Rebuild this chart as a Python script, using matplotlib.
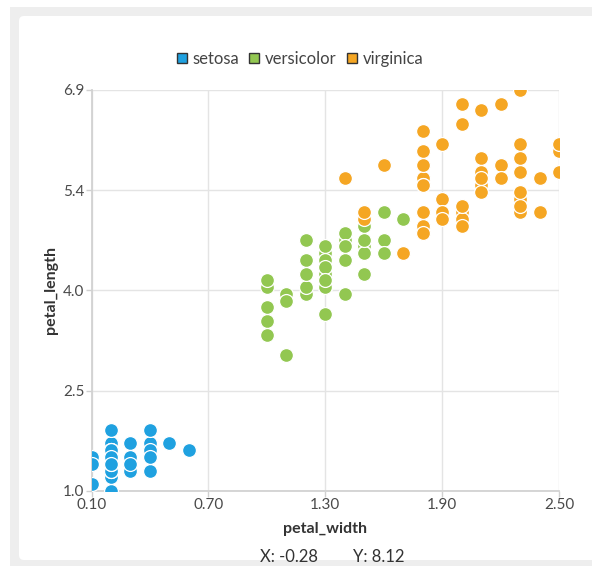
import matplotlib
matplotlib.use("Agg")
import matplotlib.pyplot as plt
from matplotlib.lines import Line2D
from matplotlib.patches import FancyBboxPatch, Rectangle
from matplotlib.transforms import IdentityTransform

plt.rcParams["font.family"] = ["Lato", "DejaVu Sans"]

# iris petal measurements
species = ["setosa", "versicolor", "virginica"]
colors = ["#1fa1e0", "#92c751", "#f5a623"]

setosa_width = [0.2, 0.2, 0.2, 0.2, 0.2, 0.4, 0.3, 0.2, 0.2, 0.1,
                0.2, 0.2, 0.1, 0.1, 0.2, 0.4, 0.4, 0.3, 0.3, 0.3,
                0.2, 0.4, 0.2, 0.5, 0.2, 0.2, 0.4, 0.2, 0.2, 0.2,
                0.2, 0.4, 0.1, 0.2, 0.2, 0.2, 0.2, 0.1, 0.2, 0.2,
                0.3, 0.3, 0.2, 0.6, 0.4, 0.3, 0.2, 0.2, 0.2, 0.2]
setosa_length = [1.4, 1.4, 1.3, 1.5, 1.4, 1.7, 1.4, 1.5, 1.4, 1.5,
                 1.5, 1.6, 1.4, 1.1, 1.2, 1.5, 1.3, 1.4, 1.7, 1.5,
                 1.7, 1.5, 1.0, 1.7, 1.9, 1.6, 1.6, 1.5, 1.4, 1.6,
                 1.6, 1.5, 1.5, 1.4, 1.5, 1.2, 1.3, 1.4, 1.3, 1.5,
                 1.3, 1.3, 1.3, 1.6, 1.9, 1.4, 1.6, 1.4, 1.5, 1.4]

versicolor_width = [1.4, 1.5, 1.5, 1.3, 1.5, 1.3, 1.6, 1.0, 1.3, 1.4,
                    1.0, 1.5, 1.0, 1.4, 1.3, 1.4, 1.5, 1.0, 1.5, 1.1,
                    1.8, 1.3, 1.5, 1.2, 1.3, 1.4, 1.4, 1.7, 1.5, 1.0,
                    1.1, 1.0, 1.2, 1.6, 1.5, 1.6, 1.5, 1.3, 1.3, 1.3,
                    1.2, 1.4, 1.2, 1.0, 1.3, 1.2, 1.3, 1.3, 1.1, 1.3]
versicolor_length = [4.7, 4.5, 4.9, 4.0, 4.6, 4.5, 4.7, 3.3, 4.6, 3.9,
                     3.5, 4.2, 4.0, 4.7, 3.6, 4.4, 4.5, 4.1, 4.5, 3.9,
                     4.8, 4.0, 4.9, 4.7, 4.3, 4.4, 4.8, 5.0, 4.5, 3.5,
                     3.8, 3.7, 3.9, 5.1, 4.5, 4.5, 4.7, 4.4, 4.1, 4.0,
                     4.4, 4.6, 4.0, 3.3, 4.2, 4.2, 4.2, 4.3, 3.0, 4.1]

virginica_width = [2.5, 1.9, 2.1, 1.8, 2.2, 2.1, 1.7, 1.8, 1.8, 2.5,
                   2.0, 1.9, 2.1, 2.0, 2.4, 2.3, 1.8, 2.2, 2.3, 1.5,
                   2.3, 2.0, 2.0, 1.8, 2.1, 1.8, 1.8, 1.8, 2.1, 1.6,
                   1.9, 2.0, 2.2, 1.5, 1.4, 2.3, 2.4, 1.8, 1.8, 2.1,
                   2.4, 2.3, 1.9, 2.3, 2.5, 2.3, 1.9, 2.0, 2.3, 1.8]
virginica_length = [6.0, 5.1, 5.9, 5.6, 5.8, 6.6, 4.5, 6.3, 5.8, 6.1,
                    5.1, 5.3, 5.5, 5.0, 5.1, 5.3, 5.5, 6.7, 6.9, 5.0,
                    5.7, 4.9, 6.7, 4.9, 5.7, 6.0, 4.8, 4.9, 5.6, 5.8,
                    6.1, 6.4, 5.6, 5.1, 5.6, 6.1, 5.6, 5.5, 4.8, 5.4,
                    5.6, 5.1, 5.1, 5.9, 5.7, 5.2, 5.0, 5.2, 5.4, 5.1]

widths = [setosa_width, versicolor_width, virginica_width]
lengths = [setosa_length, versicolor_length, virginica_length]

x_ticks = [0.10, 0.70, 1.30, 1.90, 2.50]
x_tick_labels = ["0.10", "0.70", "1.30", "1.90", "2.50"]
y_ticks = [1.0, 2.475, 3.95, 5.425, 6.9]
y_tick_labels = ["1.0", "2.5", "4.0", "5.4", "6.9"]

W, H = 592, 566
fig = plt.figure(figsize=(W / 100, H / 100), dpi=100)
fig.patch.set_facecolor("white")

# grey frame and white card behind the chart
fig.patches.append(Rectangle((10, 0), W - 10, H - 7, transform=IdentityTransform(),
                             facecolor="#eeeeee", edgecolor="none", zorder=-10))
fig.patches.append(FancyBboxPatch((19, 6), W, H - 16 - 6, transform=IdentityTransform(),
                                  boxstyle="round,pad=0,rounding_size=5",
                                  facecolor="white", edgecolor="none", zorder=-9))

ax = fig.add_axes([91.5 / W, 1 - 491 / H, (559 - 91.5) / W, (491 - 90) / H])
ax.set_facecolor("none")

for name, color, xs, ys in zip(species, colors, widths, lengths):
    ax.scatter(xs, ys, s=100, color=color, edgecolors="white", linewidths=0.9, zorder=3)

ax.set_xlim(0.1, 2.5)
ax.set_ylim(1.0, 6.9)
ax.set_xticks(x_ticks)
ax.set_xticklabels(x_tick_labels)
ax.set_yticks(y_ticks)
ax.set_yticklabels(y_tick_labels)
ax.grid(True, color="#e4e4e4", linewidth=1.0, zorder=0)
ax.tick_params(axis="both", colors="#d0d0d0", labelcolor="#4a4a4a", labelsize=11,
               length=4, width=1, pad=1)
for side in ["top", "right"]:
    ax.spines[side].set_visible(False)
for side in ["left", "bottom"]:
    ax.spines[side].set_color("#d2d2d2")
    ax.spines[side].set_linewidth(1.3)

ax.set_xlabel("petal_width", fontsize=11.5, fontweight="bold", color="#333333", labelpad=7)
ax.set_ylabel("petal_length", fontsize=11.5, fontweight="bold", color="#333333", labelpad=4)

handles = [Line2D([], [], linestyle="none", marker="s", markersize=7.5,
                  markerfacecolor=c, markeredgecolor="#333333", markeredgewidth=1.0)
           for c in colors]
fig.legend(handles, species, loc="center", bbox_to_anchor=(0.507, 1 - 59 / H), ncol=3,
           frameon=False, fontsize=12, handlelength=0.6, handletextpad=0.35,
           columnspacing=0.6, labelcolor="#444444")

fig.text(289 / W, 1 - 557 / H, "X: -0.28", ha="center", va="center", fontsize=12, color="#333333")
fig.text(379 / W, 1 - 557 / H, "Y: 8.12", ha="center", va="center", fontsize=12, color="#333333")

fig.savefig("out.png", dpi=100)
